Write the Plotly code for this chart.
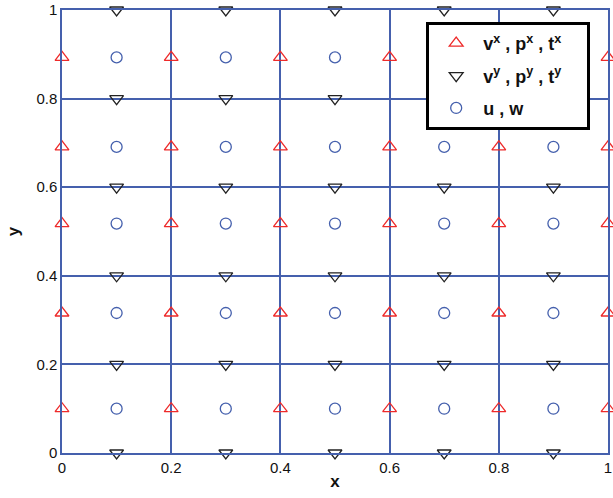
import plotly.graph_objects as go

# grid positions
x_edge = [0, 0.2, 0.4, 0.6, 0.8, 1.0]
x_mid = [0.1, 0.3, 0.5, 0.7, 0.9]
y_edge = [0, 0.2, 0.4, 0.6, 0.8, 1.0]
y_mid = [0.1, 0.316, 0.518, 0.691, 0.893]

tick_vals = [0, 0.2, 0.4, 0.6, 0.8, 1]
tick_text = ["0", "0.2", "0.4", "0.6", "0.8", "1"]

legend_names = [
    "<b>v<sup>x</sup> , p<sup>x</sup> , t<sup>x</sup></b>&nbsp;&nbsp;&nbsp;&nbsp;",
    "<b>v<sup>y</sup> , p<sup>y</sup> , t<sup>y</sup></b>&nbsp;&nbsp;&nbsp;&nbsp;",
    "<b>u , w</b>",
]

# series: vx,px,tx on (x_edge, y_mid); vy,py,ty on (x_mid, y_edge); u,w on (x_mid, y_mid)
sx1 = [x for y in y_mid for x in x_edge]
sy1 = [y for y in y_mid for x in x_edge]
sx2 = [x for y in y_edge for x in x_mid]
sy2 = [y for y in y_edge for x in x_mid]
sx3 = [x for y in y_mid for x in x_mid]
sy3 = [y for y in y_mid for x in x_mid]

blue = "#4560ad"
font_fam = "Liberation Sans, Arial"

fig = go.Figure()
fig.add_trace(go.Scatter(
    x=sx1, y=sy1, mode="markers", cliponaxis=False, legendgroup="a",
    name=legend_names[0],
    marker=dict(symbol="triangle-up-open", size=12, color="#ee2a2a", line=dict(width=1.3))))
fig.add_trace(go.Scatter(
    x=sx2, y=sy2, mode="markers", cliponaxis=False, legendgroup="b",
    name=legend_names[1],
    marker=dict(symbol="triangle-down-open", size=12, color="#222222", line=dict(width=1.3))))
fig.add_trace(go.Scatter(
    x=sx3, y=sy3, mode="markers", cliponaxis=False, legendgroup="c",
    name=legend_names[2],
    marker=dict(symbol="circle-open", size=11, color=blue, line=dict(width=1.3))))

axis_common = dict(
    range=[0, 1], tickvals=tick_vals, ticktext=tick_text, automargin=False,
    showgrid=True, gridcolor=blue, gridwidth=1.5,
    showline=True, linecolor=blue, linewidth=1.5, mirror="ticks",
    ticks="inside", ticklen=5, tickcolor=blue, ticklabeloverflow="allow",
    zeroline=False, tickfont=dict(family=font_fam, size=15, color="#111"),
)

fig.update_layout(
    width=613, height=498,
    margin=dict(l=62, r=5, t=10, b=45, autoexpand=False),
    paper_bgcolor="white", plot_bgcolor="white",
    xaxis=dict(**axis_common, title=dict(text="<b>x</b>", standoff=0,
               font=dict(family=font_fam, size=17, color="#111"))),
    yaxis=dict(**axis_common, title=dict(text="<b>y</b>", standoff=12,
               font=dict(family=font_fam, size=17, color="#111"))),
    legend=dict(x=0.667, y=0.973, xanchor="left", yanchor="top",
                bgcolor="white", bordercolor="black", borderwidth=3,
                font=dict(family=font_fam, size=18, color="#111"),
                itemwidth=44, tracegroupgap=6),
    showlegend=True,
)

fig.write_html("out.html", config={"displayModeBar": False},
               post_script="document.body.style.margin='0';")
